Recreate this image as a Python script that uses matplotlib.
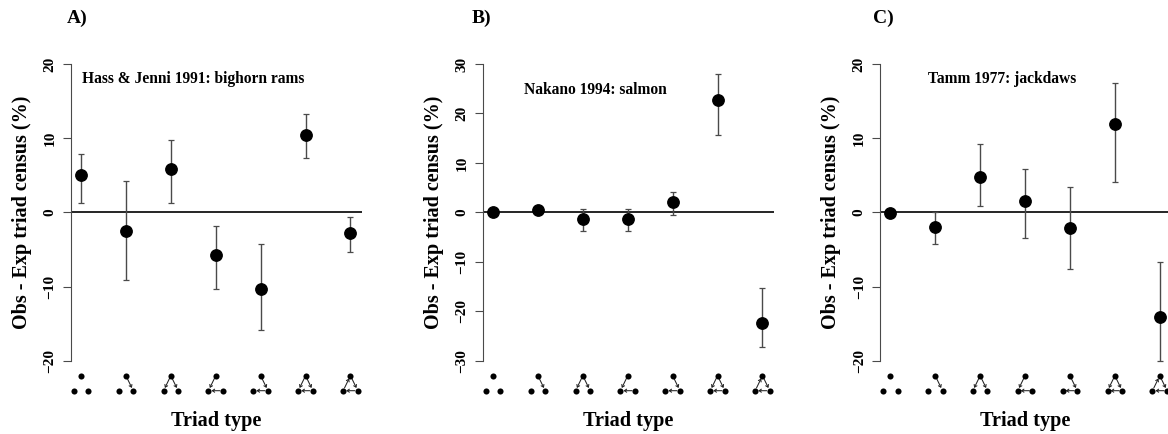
import matplotlib
matplotlib.use("Agg")
import matplotlib.pyplot as plt

plt.rcParams['font.family'] = ['Liberation Serif', 'DejaVu Serif']
plt.rcParams['font.weight'] = 'bold'

W, H = 1168, 434
AXIS_LEFT = [70.7, 482.7, 880.0]
AX_TOP, AX_BOTTOM, AX_WIDTH = 64.0, 360.7, 291.0
XMIN, XMAX = 0.77, 7.25

triad_x = [1, 2, 3, 4, 5, 6, 7]

a_mean = [5.1, -2.5, 5.8, -5.8, -10.3, 10.4, -2.8]
a_low = [1.2, -9.1, 1.2, -10.3, -15.8, 7.3, -5.4]
a_high = [7.9, 4.2, 9.7, -1.8, -4.2, 13.3, -0.6]

b_mean = [0.0, 0.4, -1.4, -1.4, 2.0, 22.8, -22.3]
b_low = [-0.3, 0.1, -3.7, -3.7, -0.5, 15.7, -27.3]
b_high = [0.3, 0.7, 0.6, 0.6, 4.2, 27.9, -15.2]

c_mean = [-0.1, -2.0, 4.8, 1.5, -2.1, 11.9, -14.1]
c_low = [-0.6, -4.2, 0.8, -3.4, -7.6, 4.1, -20.0]
c_high = [0.3, 0.0, 9.2, 5.9, 3.4, 17.5, -6.7]

panel_letters = ['A)', 'B)', 'C)']
panel_letter_x = [67, 472, 873]
study_titles = ['Hass & Jenni 1991: bighorn rams', 'Nakano 1994: salmon', 'Tamm 1977: jackdaws']
title_x = [1.02, 1.70, 1.85]
title_y = [18.0, 24.7, 18.0]
y_limits = [20, 30, 20]
y_steps = [10, 10, 10]

# Triad motifs: directed edges among the nodes top (T), left (L), right (R)
triad_edges = [
    [],
    [('T', 'R')],
    [('T', 'L'), ('T', 'R')],
    [('T', 'L'), ('R', 'L')],
    [('T', 'R'), ('R', 'L')],
    [('T', 'L'), ('T', 'R'), ('R', 'L')],
    [('L', 'T'), ('T', 'R'), ('R', 'L')],
]

GRAY = '#4a4a4a'
fig = plt.figure(figsize=(W / 100, H / 100), dpi=100)

means = [a_mean, b_mean, c_mean]
lows = [a_low, b_low, c_low]
highs = [a_high, b_high, c_high]

for i in range(3):
    ax = fig.add_axes([AXIS_LEFT[i] / W, (H - AX_BOTTOM) / H,
                       AX_WIDTH / W, (AX_BOTTOM - AX_TOP) / H])
    ax.patch.set_alpha(0)
    lim = y_limits[i]
    ax.set_xlim(XMIN, XMAX)
    ax.set_ylim(-lim, lim)
    for s in ['top', 'right', 'bottom']:
        ax.spines[s].set_visible(False)
    ax.spines['left'].set_color(GRAY)
    ax.spines['left'].set_linewidth(0.8)
    ax.set_xticks([])
    ax.set_yticks(range(-lim, lim + 1, y_steps[i]))
    ax.tick_params(axis='y', length=6, width=0.8, color=GRAY, pad=4.2)
    for t in ax.get_yticklabels():
        t.set_rotation(90)
        t.set_va('center')
        t.set_fontsize(11)
        t.set_fontweight('bold')
    ax.axhline(0, color='black', lw=1.2, zorder=2)
    err_low = [m - l for m, l in zip(means[i], lows[i])]
    err_high = [h - m for m, h in zip(means[i], highs[i])]
    ax.errorbar(triad_x, means[i], yerr=[err_low, err_high], fmt='o', color='black',
                ecolor=GRAY, elinewidth=1.0, capsize=2.3, capthick=0.9,
                markersize=8.2, clip_on=False, zorder=3)
    ax.text(title_x[i], title_y[i], study_titles[i], fontsize=11.2, fontweight='bold',
            ha='left', va='center')
    ax.set_ylabel('Obs - Exp triad census (%)', fontsize=14.5, fontweight='bold')
    ax.yaxis.set_label_coords(-39 / AX_WIDTH, 0.5)
    fig.text(panel_letter_x[i] / W, (H - 18) / H, panel_letters[i], fontsize=14,
             fontweight='bold', ha='left', va='center')
    trans = ax.get_xaxis_transform()
    ax.text(4, -(421 - AX_BOTTOM) / (AX_BOTTOM - AX_TOP), 'Triad type', transform=trans,
            fontsize=14.6, fontweight='bold', ha='center', va='center')
    # triad icons
    dx = 7.3 / 44.9
    top_y = -(375.7 - AX_BOTTOM) / (AX_BOTTOM - AX_TOP)
    bot_y = -(390.7 - AX_BOTTOM) / (AX_BOTTOM - AX_TOP)
    for x0, edges in zip(triad_x, triad_edges):
        nodes = {'T': (x0, top_y), 'L': (x0 - dx, bot_y), 'R': (x0 + dx, bot_y)}
        for n in nodes.values():
            ax.plot([n[0]], [n[1]], 'o', color='black', ms=4.4, mew=0,
                    transform=trans, clip_on=False, zorder=4)
        for a, b in edges:
            ax.annotate('', xy=nodes[b], xytext=nodes[a], xycoords=trans, textcoords=trans,
                        annotation_clip=False,
                        arrowprops=dict(arrowstyle='->,head_length=0.16,head_width=0.11',
                                        color='#222222', lw=0.75, shrinkA=2.2, shrinkB=2.2))

fig.savefig('out.png', dpi=100)
